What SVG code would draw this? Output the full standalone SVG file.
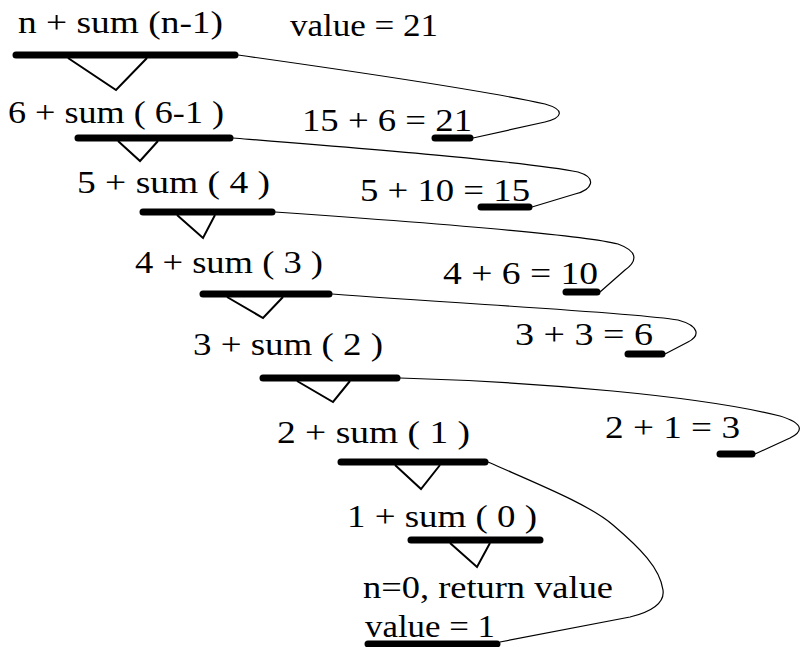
<svg xmlns="http://www.w3.org/2000/svg" width="800" height="647" viewBox="0 0 800 647">
<style>
text{font-family:"Liberation Serif","Times New Roman","DejaVu Serif",serif;font-size:32px;fill:#000}
.bar{stroke:#000;stroke-width:7;stroke-linecap:round;fill:none}
.tri{stroke:#000;stroke-width:2;fill:none;stroke-linejoin:miter}
.con{stroke:#000;stroke-width:1.2;fill:none}
</style>
<rect width="800" height="647" fill="#fff"/>
<g id="connectors">
<path class="con" d="M238,55 C380,75 500,94 545,104 C566,110 562,118 545,122 L473,138"/>
<path class="con" d="M233,138 C380,150 530,162 578,172 C598,178 592,190 575,194 L532,207"/>
<path class="con" d="M275,212 C420,222 580,234 618,244 C640,252 636,262 625,270 L600,292"/>
<path class="con" d="M332,294 C460,304 630,312 678,320 C700,326 700,336 688,342 L665,354"/>
<path class="con" d="M400,378 C540,382 700,396 780,416 C806,424 802,432 790,438 L755,454"/>
<path class="con" d="M488,462 C540,485 590,505 613,525 C640,548 660,568 663,590 C665,604 650,612 630,617 L500,642"/>
</g>
<g id="level1">
<text x="18" y="33" textLength="205" lengthAdjust="spacingAndGlyphs">n + sum (n-1)</text>
<line class="bar" x1="16" y1="55" x2="235" y2="55"/>
<polyline class="tri" points="68,58 116,90 147,58"/>
</g>
<g id="result1">
<text x="290" y="36" textLength="148" lengthAdjust="spacingAndGlyphs">value = 21</text>
</g>
<g id="level2">
<text x="8" y="123" textLength="216" lengthAdjust="spacingAndGlyphs">6 + sum ( 6-1 )</text>
<line class="bar" x1="78" y1="138" x2="230" y2="138"/>
<polyline class="tri" points="118,141 140,161 158,141"/>
</g>
<g id="result2">
<text x="302" y="131" textLength="170" lengthAdjust="spacingAndGlyphs">15 + 6 = 21</text>
<line class="bar" x1="435" y1="138" x2="470" y2="138"/>
</g>
<g id="level3">
<text x="77" y="193" textLength="193" lengthAdjust="spacingAndGlyphs">5 + sum ( 4 )</text>
<line class="bar" x1="143" y1="212" x2="272" y2="212"/>
<polyline class="tri" points="177,215 203,238 215,215"/>
</g>
<g id="result3">
<text x="360" y="201" textLength="170" lengthAdjust="spacingAndGlyphs">5 + 10 = 15</text>
<line class="bar" x1="481" y1="207" x2="529" y2="207"/>
</g>
<g id="level4">
<text x="135" y="273" textLength="188" lengthAdjust="spacingAndGlyphs">4 + sum ( 3 )</text>
<line class="bar" x1="203" y1="294" x2="329" y2="294"/>
<polyline class="tri" points="227,297 263,318 283,297"/>
</g>
<g id="result4">
<text x="443" y="284" textLength="155" lengthAdjust="spacingAndGlyphs">4 + 6 = 10</text>
<line class="bar" x1="566" y1="292" x2="597" y2="292"/>
</g>
<g id="level5">
<text x="193" y="355" textLength="190" lengthAdjust="spacingAndGlyphs">3 + sum ( 2 )</text>
<line class="bar" x1="263" y1="378" x2="397" y2="378"/>
<polyline class="tri" points="297,381 333,402 350,381"/>
</g>
<g id="result5">
<text x="515" y="345" textLength="138" lengthAdjust="spacingAndGlyphs">3 + 3 = 6</text>
<line class="bar" x1="628" y1="354" x2="662" y2="354"/>
</g>
<g id="level6">
<text x="277" y="443" textLength="193" lengthAdjust="spacingAndGlyphs">2 + sum ( 1 )</text>
<line class="bar" x1="341" y1="462" x2="485" y2="462"/>
<polyline class="tri" points="395,465 421,489 440,465"/>
</g>
<g id="result6">
<text x="605" y="438" textLength="135" lengthAdjust="spacingAndGlyphs">2 + 1 = 3</text>
<line class="bar" x1="720" y1="454" x2="752" y2="454"/>
</g>
<g id="level7">
<text x="347" y="527" textLength="190" lengthAdjust="spacingAndGlyphs">1 + sum ( 0 )</text>
<line class="bar" x1="411" y1="540" x2="540" y2="540"/>
<polyline class="tri" points="450,543 477,567 490,543"/>
</g>
<g id="base">
<text x="363" y="598" textLength="250" lengthAdjust="spacingAndGlyphs">n=0, return value</text>
<text x="365" y="637" textLength="130" lengthAdjust="spacingAndGlyphs">value = 1</text>
<line class="bar" x1="368" y1="644" x2="497" y2="644"/>
</g>
</svg>
